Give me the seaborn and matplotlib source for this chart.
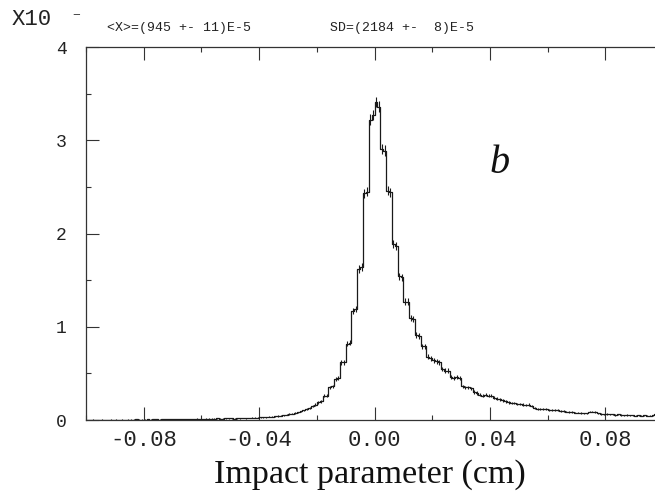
import numpy as np
import pandas as pd
import matplotlib
matplotlib.use("Agg")
import matplotlib.pyplot as plt
from matplotlib.ticker import FixedLocator, MultipleLocator
import seaborn as sns

# ---------------- data (units of 10^3 entries per 0.001 cm bin) ----------------
bin_lo, bin_hi, n_bins = -0.1, 0.1, 200
counts = [
    # -0.100 .. -0.091
    0.003, 0.002, 0.004, 0.003, 0.002, 0.004, 0.003, 0.003, 0.004, 0.002,
    # -0.090 .. -0.081
    0.004, 0.003, 0.005, 0.003, 0.004, 0.005, 0.004, 0.006, 0.004, 0.005,
    # -0.080 .. -0.071
    0.005, 0.006, 0.004, 0.006, 0.007, 0.005, 0.006, 0.008, 0.006, 0.007,
    # -0.070 .. -0.061
    0.008, 0.009, 0.007, 0.010, 0.012, 0.009, 0.011, 0.010, 0.013, 0.011,
    # -0.060 .. -0.051
    0.012, 0.014, 0.013, 0.015, 0.014, 0.017, 0.016, 0.015, 0.018, 0.020,
    # -0.050 .. -0.041
    0.017, 0.016, 0.019, 0.018, 0.021, 0.020, 0.022, 0.024, 0.023, 0.026,
    # -0.040 .. -0.031
    0.028, 0.030, 0.029, 0.033, 0.036, 0.040, 0.044, 0.046, 0.050, 0.056,
    # -0.030 .. -0.021
    0.062, 0.068, 0.075, 0.082, 0.092, 0.102, 0.115, 0.128, 0.148, 0.165,
    # -0.020 .. -0.011
    0.19, 0.20, 0.26, 0.26, 0.35, 0.36, 0.44, 0.45, 0.62, 0.62,
    # -0.010 .. -0.001
    0.82, 0.83, 1.17, 1.19, 1.62, 1.64, 2.43, 2.45, 3.22, 3.27,
    # 0.000 .. 0.009
    3.41, 3.36, 2.91, 2.89, 2.46, 2.44, 1.89, 1.87, 1.54, 1.53,
    # 0.010 .. 0.019
    1.27, 1.27, 1.09, 1.08, 0.91, 0.90, 0.79, 0.79, 0.68, 0.66,
    # 0.020 .. 0.029
    0.64, 0.63, 0.62, 0.55, 0.53, 0.53, 0.46, 0.45, 0.46, 0.45,
    # 0.030 .. 0.039
    0.36, 0.35, 0.35, 0.34, 0.30, 0.29, 0.27, 0.26, 0.27, 0.26,
    # 0.040 .. 0.049
    0.26, 0.24, 0.23, 0.22, 0.21, 0.20, 0.19, 0.18, 0.18, 0.17,
    # 0.050 .. 0.059
    0.17, 0.165, 0.16, 0.165, 0.15, 0.13, 0.12, 0.12, 0.12, 0.115,
    # 0.060 .. 0.069
    0.11, 0.11, 0.105, 0.11, 0.10, 0.10, 0.09, 0.085, 0.085, 0.08,
    # 0.070 .. 0.079
    0.08, 0.075, 0.07, 0.07, 0.09, 0.09, 0.085, 0.07, 0.065, 0.06,
    # 0.080 .. 0.089
    0.065, 0.06, 0.06, 0.055, 0.06, 0.055, 0.05, 0.055, 0.05, 0.05,
    # 0.090 .. 0.099
    0.048, 0.05, 0.045, 0.05, 0.048, 0.045, 0.05, 0.06, 0.055, 0.05,
]
scale_factor = 1000.0   # entries per unit of the y axis

xtick_values = [-0.08, -0.04, 0.00, 0.04, 0.08]
xtick_labels = ["-0.08", "-0.04", "0.00", "0.04", "0.08"]
ytick_values = [0, 1, 2, 3, 4]
ytick_labels = ["0", "1", "2", "3", "4"]

x_label = "Impact parameter (cm)"
exp_label = "X10"
exp_sup = "\u207b"
stat_mean = "<X>=(945 +- 11)E-5"
stat_sd = "SD=(2184 +-  8)E-5"
panel_tag = "b"

# ---------------- build table ----------------
edges = np.linspace(bin_lo, bin_hi, n_bins + 1)
centers = 0.5 * (edges[:-1] + edges[1:])
df = pd.DataFrame({"impact": centers, "w": counts})
df["err"] = np.sqrt(df["w"] * scale_factor) / scale_factor

# ---------------- plot ----------------
sns.set_style("ticks")
plt.rcParams["font.family"] = ["Liberation Mono", "DejaVu Sans Mono"]

W, H = 655, 498
fig = plt.figure(figsize=(W / 100, H / 100), dpi=100)
fig.patch.set_facecolor("white")

x_left_px, x_right_px = 86, 655
y_bot_px, y_top_px = 420, 47
x_min, x_max = -0.1, 0.0972
ax = fig.add_axes([x_left_px / W, (H - y_bot_px) / H,
                   (x_right_px - x_left_px) / W, (y_bot_px - y_top_px) / H])

sns.histplot(data=df, x="impact", weights="w", bins=n_bins,
             binrange=(bin_lo, bin_hi), element="step",
             fill=False, color="#1a1a1a", linewidth=0.9, ax=ax)
ax.errorbar(df["impact"], df["w"], yerr=df["err"], fmt="none",
            ecolor="#1a1a1a", elinewidth=0.8, capsize=0)

ax.set_xlim(x_min, x_max)
ax.set_ylim(0, 4)
ax.set_ylabel("")

ax.xaxis.set_major_locator(FixedLocator(xtick_values))
ax.set_xticklabels(xtick_labels)
ax.xaxis.set_minor_locator(MultipleLocator(0.02))
ax.yaxis.set_major_locator(FixedLocator(ytick_values))
ax.set_yticklabels(ytick_labels)
ax.yaxis.set_minor_locator(MultipleLocator(0.5))

for s in ["left", "top", "bottom"]:
    ax.spines[s].set_visible(True)
    ax.spines[s].set_color("#333333")
    ax.spines[s].set_linewidth(0.9)
ax.spines["right"].set_visible(False)

ax.tick_params(axis="x", which="both", direction="in", top=True, bottom=True,
               color="#333333", width=0.8)
ax.tick_params(axis="x", which="major", length=9.4, pad=7, labelsize=16,
               labelcolor="#222222")
ax.tick_params(axis="x", which="minor", length=3.6)
ax.tick_params(axis="y", which="both", direction="in", left=True, right=False,
               color="#333333", width=0.8)
ax.tick_params(axis="y", which="major", length=9.4, pad=14, labelsize=13,
               labelcolor="#222222")
ax.tick_params(axis="y", which="minor", length=3.6)

ax.set_xlabel(x_label, family="Liberation Serif", fontsize=24.5, color="#111111")
ax.xaxis.set_label_coords((370 - x_left_px) / (x_right_px - x_left_px),
                          (y_bot_px - 459) / (y_bot_px - y_top_px))

ax.text(0.0432, 2.65, panel_tag, family="Liberation Serif", style="italic",
        fontsize=29, ha="center", va="baseline", color="#111111")

fig.text(12 / W, 1 - 19.5 / H, exp_label, fontsize=16, ha="left", va="center",
         color="#222222")
fig.text(70 / W, 1 - 20 / H, exp_sup, fontsize=14, ha="left", va="center",
         color="#222222", family=["Liberation Mono", "DejaVu Sans Mono"])
fig.text(107 / W, 1 - 28 / H, stat_mean, fontsize=9.5, ha="left", va="center",
         color="#222222")
fig.text(330 / W, 1 - 28 / H, stat_sd, fontsize=9.5, ha="left", va="center",
         color="#222222")

fig.savefig("out.png", dpi=100, facecolor="white")
